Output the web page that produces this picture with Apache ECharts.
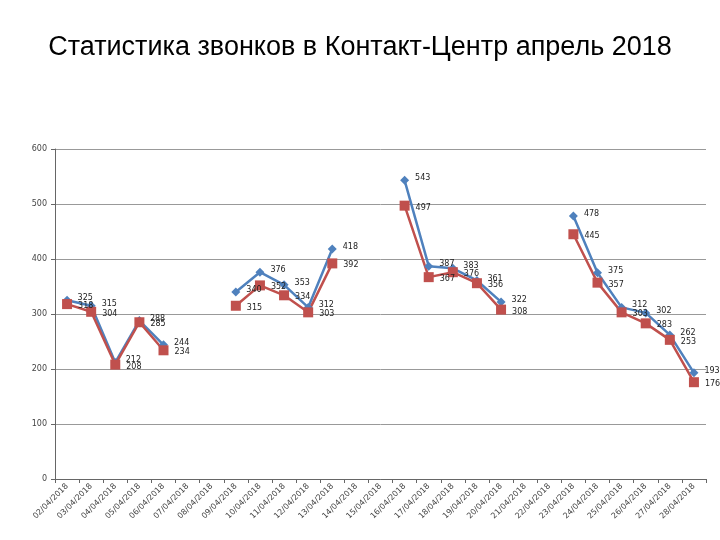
<!DOCTYPE html>
<html><head><meta charset="utf-8">
<script src="https://cdn.jsdelivr.net/npm/echarts@6/dist/echarts.min.js"></script>
<style>html,body{margin:0;padding:0;background:#fff}#c{width:720px;height:540px}</style>
</head><body><div id="c"></div>
<script>
const categories = ["02/04/2018","03/04/2018","04/04/2018","05/04/2018","06/04/2018","07/04/2018","08/04/2018","09/04/2018","10/04/2018","11/04/2018","12/04/2018","13/04/2018","14/04/2018","15/04/2018","16/04/2018","17/04/2018","18/04/2018","19/04/2018","20/04/2018","21/04/2018","22/04/2018","23/04/2018","24/04/2018","25/04/2018","26/04/2018","27/04/2018","28/04/2018"];
const incoming = [325,315,212,288,244,null,null,340,376,353,312,418,null,null,543,387,383,361,322,null,null,478,375,312,302,262,193];
const answered = [318,304,208,285,234,null,null,315,352,334,303,392,null,null,497,367,376,356,308,null,null,445,357,303,283,253,176];
const yTicks = {min:0, max:600, interval:100};

const chart = echarts.init(document.getElementById('c'));
const lbl = {show:true, position:'right', distance:6, fontSize:8, color:'#222', fontFamily:'DejaVu Sans'};
chart.setOption({
  animation:false,
  title:{text:'Статистика звонков в Контакт-Центр апрель 2018', left:'center', top:29,
    textStyle:{fontFamily:'Liberation Sans', fontSize:27, fontWeight:'normal', color:'#000'}},
  grid:{left:55, right:14, top:149, bottom:61},
  xAxis:{type:'category', data:categories, boundaryGap:true,
    axisLine:{lineStyle:{color:'#666', width:1}},
    axisTick:{show:true, alignWithLabel:false, length:4, lineStyle:{color:'#666'}},
    axisLabel:{rotate:45, fontSize:8, color:'#444', fontFamily:'DejaVu Sans', interval:0, margin:6}},
  yAxis:{type:'value', min:yTicks.min, max:yTicks.max, interval:yTicks.interval,
    axisLine:{show:true, lineStyle:{color:'#666'}},
    axisTick:{show:true, length:4, lineStyle:{color:'#666'}},
    splitLine:{lineStyle:{color:'#999', width:1}},
    axisLabel:{fontSize:8, color:'#444', fontFamily:'DejaVu Sans', margin:8}},
  series:[
    {name:'Поступило', type:'line', data:incoming, connectNulls:false,
      symbol:'diamond', symbolSize:9,
      lineStyle:{color:'#4F81BD', width:2.5}, itemStyle:{color:'#4F81BD'},
      label:Object.assign({}, lbl, {offset:[0,-2]})},
    {name:'Обработано', type:'line', data:answered, connectNulls:false,
      symbol:'rect', symbolSize:10,
      lineStyle:{color:'#C0504D', width:2.5}, itemStyle:{color:'#C0504D'},
      label:Object.assign({}, lbl, {offset:[0,2]})}
  ]
});
</script></body></html>
